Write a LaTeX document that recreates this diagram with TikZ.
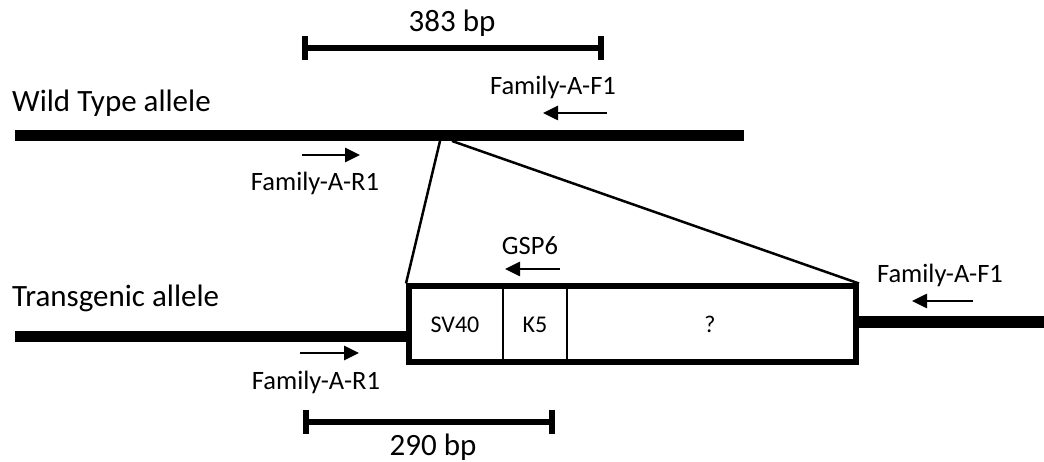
\documentclass[tikz,border=0pt]{standalone}
\usepackage{fontspec}
\setmainfont{Carlito}
\usetikzlibrary{arrows.meta}
\begin{document}
\begin{tikzpicture}[x=1pt,y=-1pt,
  bigtxt/.style={font=\fontsize{31}{36}\selectfont, inner sep=0pt},
  lbl/.style={font=\fontsize{26.5}{30}\selectfont, inner sep=0pt},
  boxtxt/.style={font=\fontsize{24}{28}\selectfont, inner sep=0pt},
  dna/.style={line width=11pt},
  scalebar/.style={line width=6pt, {Bar[width=24pt]}-{Bar[width=24pt]}},
  primer/.style={line width=2.6pt, -{Triangle[length=15pt,width=14pt]}},
  link/.style={line width=2.5pt},
  divider/.style={line width=2pt},
  insertbox/.style={draw, line width=6pt, minimum width=447pt, minimum height=75pt, inner sep=0pt},
]
\useasboundingbox (0,0) rectangle (1044,462);

% scale bar 383 bp
\coordinate (s1a) at (302,48);
\coordinate (s1b) at (604,48);
\draw[scalebar] (s1a) -- (s1b);
\node[bigtxt, anchor=base] (t383) at (452,32) {383 bp};

% wild type allele
\node[bigtxt, anchor=base west] (twt) at (12,112) {Wild Type allele};
\coordinate (wta) at (15,136);
\coordinate (wtb) at (744,136);
\draw[dna] (wta) -- (wtb);

% primers on wild type
\node[lbl, anchor=base] (tf1a) at (553,95) {Family-A-F1};
\coordinate (pf1as) at (607,113);
\coordinate (pf1ae) at (543,113);
\draw[primer] (pf1as) -- (pf1ae);

\coordinate (pr1as) at (302,155);
\coordinate (pr1ae) at (360,155);
\draw[primer] (pr1as) -- (pr1ae);
\node[lbl, anchor=base] (tr1a) at (315,191) {Family-A-R1};

% insert box
\node[insertbox] (insert) at (632.5,324) {};
\coordinate (d1t) at (503,286.5);
\coordinate (d1b) at (503,361.5);
\coordinate (d2t) at (567,286.5);
\coordinate (d2b) at (567,361.5);
\draw[divider] (d1t) -- (d1b);
\draw[divider] (d2t) -- (d2b);
\node[boxtxt, anchor=base] (tsv) at (455,333) {SV40};
\node[boxtxt, anchor=base] (tk5) at (535,333) {K5};
\node[boxtxt, anchor=base] (tq) at (710,333) {?};

% links from wild type to insert
\coordinate (lk1) at (440,141);
\coordinate (lk2) at (452,141);
\draw[link] (lk1) -- (insert.north west);
\draw[link] (lk2) -- (insert.north east);

% transgenic allele
\node[bigtxt, anchor=base west] (ttg) at (12,307) {Transgenic allele};
\coordinate (tga) at (15,336);
\coordinate (tgb) at (407,336);
\draw[dna] (tga) -- (tgb);
\coordinate (tgc) at (858,322);
\coordinate (tgd) at (1044,322);
\draw[dna] (tgc) -- (tgd);

% primers on transgenic
\node[lbl, anchor=base] (tgsp) at (530,255) {GSP6};
\coordinate (pgs) at (560,269);
\coordinate (pge) at (505,269);
\draw[primer] (pgs) -- (pge);

\node[lbl, anchor=base] (tf1b) at (940,283) {Family-A-F1};
\coordinate (pf1bs) at (973,301);
\coordinate (pf1be) at (912,301);
\draw[primer] (pf1bs) -- (pf1be);

\coordinate (pr1bs) at (300,353);
\coordinate (pr1be) at (359,353);
\draw[primer] (pr1bs) -- (pr1be);
\node[lbl, anchor=base] (tr1b) at (316,389) {Family-A-R1};

% scale bar 290 bp
\coordinate (s2a) at (303,422);
\coordinate (s2b) at (555,422);
\draw[scalebar] (s2a) -- (s2b);
\node[bigtxt, anchor=base] (t290) at (433,455) {290 bp};
\end{tikzpicture}
\end{document}
